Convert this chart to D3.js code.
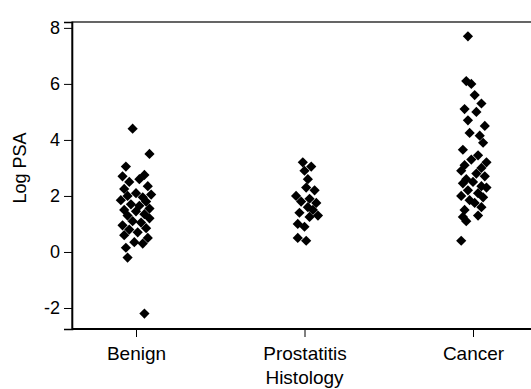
<!DOCTYPE html>
<html>
<head>
<meta charset="utf-8">
<script src="https://cdn.jsdelivr.net/npm/d3@7"></script>
<style>
  html, body { margin: 0; padding: 0; background: #fff; }
  svg { display: block; font-family: "Liberation Sans", Arial, Helvetica, sans-serif; }
</style>
</head>
<body>
<svg id="chart" width="531" height="389"></svg>
<script>
// Histology groups on the x axis
const categories = ["Benign", "Prostatitis", "Cancer"];
const yTicks = [-2, 0, 2, 4, 6, 8];

// Log PSA per patient, with a small horizontal jitter (in category units)
const benignLogPSA = [4.4, 3.5, 3.05, 2.75, 2.7, 2.6, 2.5, 2.35, 2.25, 2.1, 2.05, 2.0, 1.95, 1.85, 1.8, 1.7,
  1.65, 1.55, 1.5, 1.45, 1.35, 1.3, 1.2, 1.1, 1.05, 0.95, 0.85, 0.8, 0.7, 0.6, 0.5, 0.35, 0.3, 0.15, -0.2, -2.2];
const benignJitter = [-0.02, 0.08, -0.06, 0.05, -0.08, 0.02, -0.04, 0.07, -0.07, 0.0, 0.09, -0.05, 0.04, -0.09,
  0.06, -0.03, 0.02, 0.08, -0.07, 0.0, 0.05, -0.05, 0.08, -0.02, 0.03, -0.08, 0.06, -0.04, 0.01, -0.07, 0.07,
  -0.01, 0.04, -0.06, -0.05, 0.05];

const prostatitisLogPSA = [3.2, 3.05, 2.9, 2.6, 2.3, 2.2, 2.0, 1.9, 1.8, 1.75, 1.6, 1.5, 1.4, 1.3, 1.25,
  1.0, 0.9, 0.5, 0.4];
const prostatitisJitter = [-0.01, 0.04, 0.0, 0.02, 0.01, 0.06, -0.05, 0.03, -0.02, 0.07, 0.02, 0.05, -0.03,
  0.08, 0.03, -0.04, 0.0, -0.04, 0.01];

const cancerLogPSA = [7.7, 6.1, 6.0, 5.6, 5.3, 5.1, 5.0, 4.7, 4.5, 4.25, 4.15, 3.9, 3.65, 3.45, 3.3, 3.2,
  3.1, 3.0, 2.9, 2.8, 2.7, 2.6, 2.5, 2.45, 2.35, 2.3, 2.2, 2.1, 2.0, 1.95, 1.85, 1.75, 1.6, 1.5, 1.3, 1.25,
  1.1, 0.4];
const cancerJitter = [-0.03, -0.04, -0.01, 0.01, 0.05, -0.05, 0.02, -0.03, 0.07, -0.02, 0.04, 0.06, -0.06,
  0.03, -0.01, 0.08, -0.05, 0.05, -0.07, 0.02, 0.07, -0.04, 0.0, -0.06, 0.05, 0.08, -0.03, 0.03, -0.07,
  0.06, -0.02, 0.01, 0.05, -0.05, 0.03, -0.06, -0.04, -0.07];

const groups = [
  { name: categories[0], values: benignLogPSA, jitter: benignJitter },
  { name: categories[1], values: prostatitisLogPSA, jitter: prostatitisJitter },
  { name: categories[2], values: cancerLogPSA, jitter: cancerJitter }
];
const points = groups.flatMap((g, gi) =>
  g.values.map((v, i) => ({ x: gi + 1 + g.jitter[i], y: v })));

const svg = d3.select("#chart");
const plot = { left: 72, top: 22, bottom: 329, right: 541 };
const fontFamily = "Liberation Sans, Arial, sans-serif";

const x = d3.scaleLinear().domain([1, 3]).range([136, 473]);
const y = d3.scaleLinear().domain([-2.75, 8.21]).range([plot.bottom, plot.top]);

// plot frame
svg.append("rect")
  .attr("x", plot.left).attr("y", plot.top)
  .attr("width", plot.right - plot.left).attr("height", plot.bottom - plot.top)
  .attr("fill", "none").attr("stroke", "#000").attr("stroke-width", 1.2);

// y axis (plain hyphen for negative labels)
const yAxis = svg.append("g")
  .attr("transform", `translate(${plot.left},0)`)
  .call(d3.axisLeft(y).tickValues(yTicks).tickSize(8).tickPadding(4).tickFormat(d => String(d)));
yAxis.select(".domain").attr("stroke-width", 1.6);
yAxis.selectAll("text").attr("font-size", 18).attr("fill", "#000").attr("font-family", fontFamily);

// x axis
const xAxis = svg.append("g")
  .attr("transform", `translate(0,${plot.bottom})`)
  .call(d3.axisBottom(x).tickValues([1, 2, 3]).tickSize(8).tickPadding(10)
    .tickFormat(d => categories[d - 1]));
xAxis.select(".domain").remove();
xAxis.selectAll("text").attr("font-size", 19).attr("fill", "#000").attr("font-family", fontFamily);
svg.append("line").attr("x1", plot.left).attr("x2", plot.right)
  .attr("y1", plot.bottom).attr("y2", plot.bottom).attr("stroke", "#000").attr("stroke-width", 1.8);

// axis titles
svg.append("text")
  .attr("x", x(2)).attr("y", 384)
  .attr("text-anchor", "middle").attr("font-size", 19).text("Histology");
svg.append("text")
  .attr("transform", `translate(26,${y(3)}) rotate(-90)`)
  .attr("text-anchor", "middle").attr("font-size", 18).text("Log PSA");

// markers: filled diamonds
const diamond = d3.symbol(d3.symbolSquare, 52);
svg.append("g").selectAll("path")
  .data(points).join("path")
  .attr("d", diamond)
  .attr("transform", d => `translate(${x(d.x)},${y(d.y)}) rotate(45)`)
  .attr("fill", "#000");
</script>
</body>
</html>
